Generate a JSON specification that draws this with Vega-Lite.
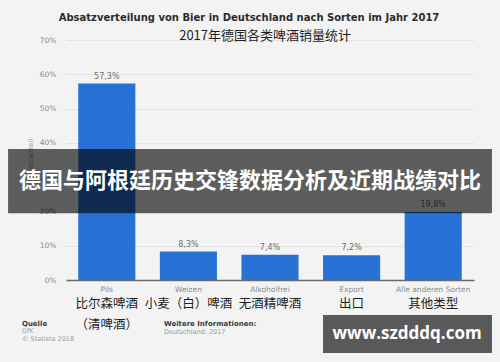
{
  "$schema": "https://vega.github.io/schema/vega-lite/v6.json",
  "width": 408,
  "height": 240,
  "autosize": "none",
  "padding": {"left": 66, "top": 40, "right": 26, "bottom": 82},
  "background": "#f3f3f3",
  "title": {
    "text": "Absatzverteilung von Bier in Deutschland nach Sorten im Jahr 2017",
    "font": "DejaVu Sans",
    "fontSize": 10,
    "fontWeight": "bold",
    "color": "#2b2b2b",
    "anchor": "middle",
    "frame": "group",
    "dx": -21,
    "offset": 7
  },
  "datasets": {
    "bier": [
      {"sorte": "Pils", "wert": 57.3, "label": "57,3%", "cn1": "比尔森啤酒", "cn2": "（清啤酒）"},
      {"sorte": "Weizen", "wert": 8.3, "label": "8,3%", "cn1": "小麦（白）啤酒", "cn2": ""},
      {"sorte": "Alkoholfrei", "wert": 7.4, "label": "7,4%", "cn1": "无酒精啤酒", "cn2": ""},
      {"sorte": "Export", "wert": 7.2, "label": "7,2%", "cn1": "出口", "cn2": ""},
      {"sorte": "Alle anderen Sorten", "wert": 19.8, "label": "19,8%", "cn1": "其他类型", "cn2": ""}
    ]
  },
  "layer": [
    {
      "data": {"name": "bier"},
      "encoding": {
        "x": {
          "field": "sorte",
          "type": "nominal",
          "sort": null,
          "scale": {"paddingInner": 0.3, "paddingOuter": 0.15},
          "axis": {
            "title": null,
            "labelAngle": 0,
            "labelFont": "DejaVu Sans",
            "labelFontSize": 7.5,
            "labelColor": "#8a8a8a",
            "labelPadding": 5,
            "ticks": false,
            "domainColor": "#6b6b6b",
            "domainWidth": 1.5,
            "grid": false
          }
        },
        "y": {
          "field": "wert",
          "type": "quantitative",
          "scale": {"domain": [0, 70], "nice": false, "zero": true},
          "axis": {
            "title": "Absatzanteil",
            "titleFont": "DejaVu Sans",
            "titleFontSize": 7,
            "titleFontWeight": "normal",
            "titleColor": "#9a9a9a",
            "titlePadding": 6,
            "values": [0, 10, 20, 30, 40, 50, 60, 70],
            "labelExpr": "datum.value + '%'",
            "labelOverlap": false,
            "labelFont": "DejaVu Sans",
            "labelFontSize": 7.5,
            "labelColor": "#8a8a8a",
            "labelPadding": 10,
            "ticks": false,
            "domain": false,
            "grid": true,
            "gridColor": "#e3e3e3",
            "gridWidth": 1
          }
        }
      },
      "layer": [
        {
          "mark": {"type": "bar", "color": "#2872d6"}
        },
        {
          "mark": {"type": "text", "baseline": "bottom", "dy": -3, "font": "DejaVu Sans", "fontSize": 8, "color": "#6f6f6f"},
          "encoding": {
            "text": {"field": "label"}
          }
        },
        {
          "mark": {"type": "text", "baseline": "middle", "font": "Noto Sans CJK SC", "fontSize": 12.5, "color": "#1e1e1e"},
          "encoding": {
            "y": {"datum": -7.1, "type": "quantitative"},
            "text": {"field": "cn1"}
          }
        },
        {
          "mark": {"type": "text", "baseline": "middle", "font": "Noto Sans CJK SC", "fontSize": 12.5, "color": "#1e1e1e"},
          "encoding": {
            "y": {"datum": -13.0, "type": "quantitative"},
            "text": {"field": "cn2"}
          }
        }
      ]
    },
    {
      "encoding": {
        "x": {"field": "x", "type": "quantitative", "scale": {"domain": [0, 1], "nice": false, "zero": false}, "axis": null},
        "y": {"field": "y", "type": "quantitative", "axis": null}
      },
      "layer": [
        {
          "data": {"values": [{"x": 0.488, "y": 71.2, "text": "2017年德国各类啤酒销量统计"}]},
          "mark": {"type": "text", "baseline": "middle", "font": "Noto Sans CJK SC", "fontSize": 13, "color": "#1e1e1e"},
          "encoding": {"text": {"field": "text"}}
        },
        {
          "data": {"values": [{"x": -0.142, "x2": 1.044, "y": 38.2, "y2": 19.5}]},
          "mark": {"type": "rect", "color": "#000000", "opacity": 0.62},
          "encoding": {"x2": {"field": "x2"}, "y2": {"field": "y2"}}
        },
        {
          "data": {"values": [{"x": 0.451, "y": 28.9, "text": "德国与阿根廷历史交锋数据分析及近期战绩对比"}]},
          "mark": {"type": "text", "baseline": "middle", "font": "Noto Sans CJK SC", "fontWeight": "bold", "fontSize": 22, "color": "#ffffff"},
          "encoding": {"text": {"field": "text"}}
        },
        {
          "data": {"values": [{"x": -0.108, "y": -12.8, "text": "Quelle"}, {"x": 0.24, "y": -12.8, "text": "Weitere Informationen:"}]},
          "mark": {"type": "text", "align": "left", "baseline": "middle", "font": "DejaVu Sans", "fontSize": 7, "fontWeight": 600, "color": "#3a3a3a"},
          "encoding": {"text": {"field": "text"}}
        },
        {
          "data": {"values": [{"x": -0.108, "y": -14.9, "text": "GfK"}, {"x": -0.108, "y": -17.2, "text": "© Statista 2018"}, {"x": 0.24, "y": -15.2, "text": "Deutschland; 2017"}]},
          "mark": {"type": "text", "align": "left", "baseline": "middle", "font": "DejaVu Sans", "fontSize": 6.5, "color": "#9a9a9a"},
          "encoding": {"text": {"field": "text"}}
        },
        {
          "data": {"values": [{"x": 0.63, "x2": 1.044, "y": -10.2, "y2": -21.3}]},
          "mark": {"type": "rect", "color": "#595959"},
          "encoding": {"x2": {"field": "x2"}, "y2": {"field": "y2"}}
        },
        {
          "data": {"values": [{"x": 0.836, "y": -15.75, "text": "www.szdddq.com"}]},
          "mark": {"type": "text", "baseline": "middle", "font": "Open Sans", "fontWeight": "bold", "fontSize": 17, "color": "#ffffff"},
          "encoding": {"text": {"field": "text"}}
        }
      ]
    }
  ],
  "resolve": {"scale": {"x": "independent"}, "axis": {"y": "independent"}},
  "config": {
    "view": {"stroke": null},
    "axis": {"zindex": 0}
  }
}
